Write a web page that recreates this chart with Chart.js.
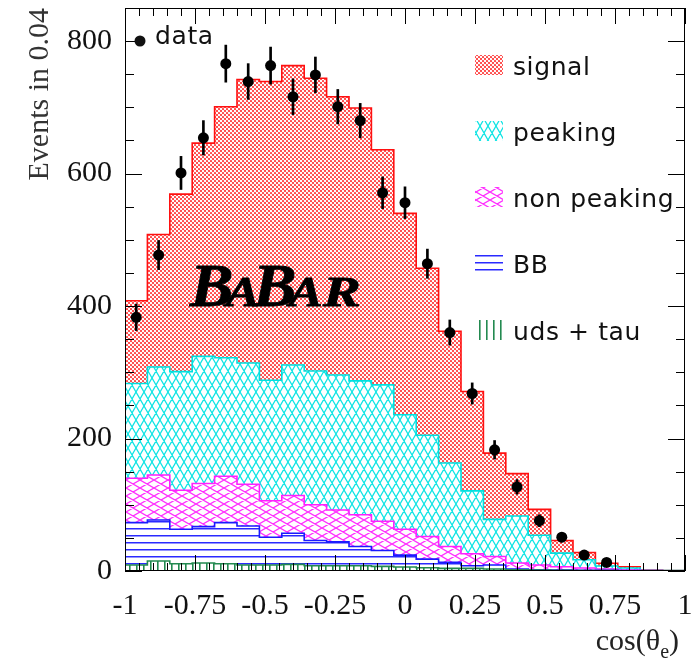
<!DOCTYPE html>
<html>
<head>
<meta charset="utf-8">
<title>cos(θe) distribution</title>
<script src="https://cdn.jsdelivr.net/npm/chart.js@4.4.1/dist/chart.umd.min.js"></script>
<style>
  html, body { margin: 0; padding: 0; background: #fff; }
  #wrap { position: relative; width: 695px; height: 660px; }
</style>
</head>
<body>
<div id="wrap"><canvas id="chart" width="695" height="660"></canvas></div>
<script>
"use strict";

// ----- data ---------------------------------------------------------------- //
// 25 bins of 0.08 over [-1, 1]
const BIN_LO = -1;
const BIN_HI = 1;
const BIN_W = 0.08;

const DATA     = [383, 477, 601, 654, 766, 739, 763, 716, 749, 701, 680, 571, 556,
                  464, 360, 268, 183, 127, 76, 51, 24, 13, null, null, null];
const DATA_ERR = [20, 22, 25, 26, 28, 27, 28, 27, 27, 26, 26, 24, 24,
                  22, 19, 16, 14, 11, 9, 7, 5, 4, 0, 0, 0];

// fit components, bottom of the stack first
const UDS_TAU     = [9, 15, 11, 12, 11, 9, 9, 10, 8, 8, 8, 7, 6,
                     5, 4, 4, 3, 2, 1.5, 1, 0.8, 0.5, 0.4, 0.3, 0.2];
const BB          = [64, 62, 52, 55, 62, 59, 42, 47, 38, 36, 29, 24, 18,
                     13, 9, 4, 6, 1, 0.5, 0.5, 0.4, 0.5, 0.2, 0.1, 0.1];
const NON_PEAKING = [67, 68, 59, 65, 70, 63, 55, 57, 54, 48, 48, 44, 39,
                     34, 24, 18, 13, 9, 7, 5, 3.3, 2, 0.9, 0.4, 0.1];
const PEAKING     = [143, 163, 179, 192, 179, 183, 182, 197, 202, 204, 202, 206, 173,
                     153, 126, 95, 56, 71, 45, 20.5, 12.5, 4.5, 3, 0.4, 0.1];
const SIGNAL      = [125, 200, 268, 322, 379, 428, 451, 452, 442, 420, 412, 355, 304,
                     252, 199, 150, 100, 64, 39, 19, 11, 4.1, 2, 0.3, 0.1];

const X_TICKS = [-1, -0.75, -0.5, -0.25, 0, 0.25, 0.5, 0.75, 1];
const Y_TICKS = [0, 200, 400, 600, 800];
const Y_MAX = 850;

// ----- look ---------------------------------------------------------------- //
const SERIF = "'Liberation Serif', 'Times New Roman', serif";
const SANS = "'DejaVu Sans', sans-serif";

function makePattern(w, h, draw) {
  const c = document.createElement("canvas");
  c.width = w; c.height = h;
  const g = c.getContext("2d");
  draw(g, w, h);
  return g.createPattern(c, "repeat");
}

function crossHatch(color, lw) {
  return (g, w, h) => {
    g.strokeStyle = color;
    g.lineWidth = lw;
    g.beginPath();
    for (const dx of [-w, 0, w]) {
      g.moveTo(dx, 0); g.lineTo(dx + w, h);
      g.moveTo(dx + w, 0); g.lineTo(dx, h);
    }
    g.stroke();
  };
}

const PAT_SIGNAL = makePattern(4, 4, (g) => {
  g.fillStyle = "#ff2424";
  g.fillRect(0, 0, 4, 4);
  g.fillStyle = "#fff";
  for (const [x, y] of [[1, 1], [3, 3], [-1, 3], [3, -1], [-1, -1], [5, 5], [1, 5], [5, 1]]) {
    g.beginPath(); g.arc(x, y, 1.25, 0, Math.PI * 2); g.fill();
  }
});
const PAT_PEAKING = makePattern(8, 14, crossHatch("#10e4e4", 1.3));
const PAT_NONPEAK = makePattern(14, 8, crossHatch("#ff30ff", 1.3));
const PAT_BB = makePattern(8, 7, (g) => {
  g.fillStyle = "#2a2aff";
  g.fillRect(0, 3, 8, 1.5);
});
const PAT_UDS = makePattern(7, 8, (g) => {
  g.fillStyle = "#238a50";
  g.fillRect(3, 0, 1.6, 8);
});

const STACK = [
  { name: "uds + tau",   values: UDS_TAU,     color: "#238a50", pattern: PAT_UDS },
  { name: "BB",          values: BB,          color: "#1a1aff", pattern: PAT_BB },
  { name: "non peaking", values: NON_PEAKING, color: "#ff20ff", pattern: PAT_NONPEAK },
  { name: "peaking",     values: PEAKING,     color: "#00e0e0", pattern: PAT_PEAKING },
  { name: "signal",      values: SIGNAL,      color: "#ff1010", pattern: PAT_SIGNAL },
];

// legend entries, top to bottom (baselines in px)
const LEGEND_X = 475;
const LEGEND_BASE = [75, 141, 207, 273, 340];

// ----- helpers ------------------------------------------------------------- //
function edge(k) { return BIN_LO + k * BIN_W; }
function center(k) { return BIN_LO + (k + 0.5) * BIN_W; }

function stepPoints(vals) {
  const pts = vals.map((v, k) => ({ x: edge(k), y: v }));
  pts.push({ x: BIN_HI, y: vals[vals.length - 1] });
  return pts;
}

function fmtTick(v) {
  return String(Math.round(v * 100) / 100);
}

// cumulative tops of the stacked components
let running = SIGNAL.map(() => 0);
const TOPS = STACK.map(s => (running = running.map((r, k) => r + s.values[k])));

// ----- decorations: frame, ticks, legend, labels --------------------------- //
const decorPlugin = {
  id: "decor",
  afterDraw(chart) {
    const { ctx, chartArea: a, scales: { x, y } } = chart;
    ctx.save();

    // frame + inward ticks on all four sides
    ctx.strokeStyle = "#000";
    ctx.lineWidth = 1;
    ctx.strokeRect(a.left + 0.5, a.top + 0.5, a.right - a.left - 1, a.bottom - a.top - 1);
    ctx.beginPath();
    for (let i = 0; i <= 40; i++) {
      const v = BIN_LO + i * 0.05;
      const px = Math.round(x.getPixelForValue(v)) + 0.5;
      const len = i % 5 === 0 ? 16 : 8;
      ctx.moveTo(px, a.bottom); ctx.lineTo(px, a.bottom - len);
      ctx.moveTo(px, a.top); ctx.lineTo(px, a.top + len);
    }
    for (let v = 0; v <= Y_MAX; v += 50) {
      const py = Math.round(y.getPixelForValue(v)) + 0.5;
      const len = v % 200 === 0 ? 17 : 9;
      ctx.moveTo(a.left, py); ctx.lineTo(a.left + len, py);
      ctx.moveTo(a.right, py); ctx.lineTo(a.right - len, py);
    }
    ctx.stroke();

    // legend
    ctx.fillStyle = "#111";
    ctx.font = `25px ${SANS}`;
    ctx.letterSpacing = "0.6px";
    ctx.textBaseline = "alphabetic";
    ctx.textAlign = "left";
    const order = [4, 3, 2, 1, 0];
    order.forEach((si, i) => {
      const s = STACK[si];
      const base = LEGEND_BASE[i];
      ctx.fillStyle = s.pattern;
      ctx.fillRect(LEGEND_X, base - 20, 28, 20);
      ctx.fillStyle = "#111";
      ctx.fillText(s.name, 513, base);
    });

    ctx.beginPath();
    ctx.arc(140, 41, 5.5, 0, Math.PI * 2);
    ctx.fill();
    ctx.fillText("data", 155, 44);
    ctx.letterSpacing = "0px";

    // experiment logo: full-size B's, stretched small capitals
    const logo = [["B", 190, 62, 1.05], ["A", 226, 42, 1.2], ["B", 253, 62, 1.05],
                  ["A", 289, 42, 1.2], ["R", 323, 42, 1.35]];
    ctx.fillStyle = "#000";
    ctx.strokeStyle = "#000";
    ctx.lineWidth = 0.8;
    for (const [ch, lx, size, sx] of logo) {
      ctx.save();
      ctx.translate(lx, 306);
      ctx.scale(sx, 1);
      ctx.font = `bold italic ${size}px ${SERIF}`;
      ctx.fillText(ch, 0, 0);
      ctx.strokeText(ch, 0, 0);
      ctx.restore();
    }

    // axis titles
    ctx.fillStyle = "#222";
    ctx.font = `30px ${SERIF}`;
    const t1 = "cos(θ", t2 = "e", t3 = ")";
    const w1 = ctx.measureText(t1).width;
    const w3 = ctx.measureText(t3).width;
    ctx.font = `20px ${SERIF}`;
    const w2 = ctx.measureText(t2).width;
    const tx = 679 - (w1 + w2 + w3);
    ctx.font = `30px ${SERIF}`;
    ctx.fillText(t1, tx, 650);
    ctx.font = `20px ${SERIF}`;
    ctx.fillText(t2, tx + w1, 658);
    ctx.font = `30px ${SERIF}`;
    ctx.fillText(t3, tx + w1 + w2, 650);

    ctx.translate(48, 8);
    ctx.rotate(-Math.PI / 2);
    ctx.textAlign = "right";
    ctx.fillStyle = "#333";
    ctx.fillText("Events in 0.04", 0, 0);

    ctx.restore();
  },
};

// ----- chart --------------------------------------------------------------- //
const histSets = STACK.map((s, i) => ({
  type: "line",
  label: s.name,
  data: stepPoints(TOPS[i]),
  stepped: "before",
  fill: i === 0 ? "origin" : "-1",
  backgroundColor: s.pattern,
  borderColor: s.color,
  borderWidth: 1.6,
  pointRadius: 0,
  order: 5,
}));

const valid = DATA.map((v, k) => k).filter(k => DATA[k] != null);

const errSet = {
  type: "bar",
  label: "err",
  data: valid.map(k => ({ x: center(k), y: [DATA[k] - DATA_ERR[k], DATA[k] + DATA_ERR[k]] })),
  barThickness: 2,
  backgroundColor: "#000",
  order: 1,
};

const dataSet = {
  type: "line",
  label: "data",
  data: valid.map(k => ({ x: center(k), y: DATA[k] })),
  showLine: false,
  pointRadius: 5.5,
  pointBackgroundColor: "#000",
  pointBorderColor: "#000",
  pointBorderWidth: 0,
  order: 0,
};

new Chart(document.getElementById("chart"), {
  type: "line",
  data: { datasets: [...histSets, errSet, dataSet] },
  options: {
    responsive: false,
    animation: false,
    devicePixelRatio: 1,
    layout: { padding: { top: 8, right: 10, left: 0, bottom: 0 } },
    plugins: {
      legend: { display: false },
      tooltip: { enabled: false },
      filler: { drawTime: "beforeDatasetsDraw" },
    },
    scales: {
      x: {
        type: "linear",
        min: BIN_LO,
        max: BIN_HI,
        offset: false,
        grid: { display: false, drawTicks: false },
        border: { display: false },
        afterBuildTicks: s => { s.ticks = X_TICKS.map(v => ({ value: v })); },
        afterFit: s => { s.height = 89; s.paddingLeft = 0; s.paddingRight = 0; },
        ticks: {
          font: { family: SERIF, size: 30 },
          color: "#111",
          padding: 17,
          maxRotation: 0,
          autoSkip: false,
          callback: v => fmtTick(v),
        },
      },
      y: {
        type: "linear",
        min: 0,
        max: Y_MAX,
        grid: { display: false, drawTicks: false },
        border: { display: false },
        afterBuildTicks: s => { s.ticks = Y_TICKS.map(v => ({ value: v })); },
        afterFit: s => { s.width = 125; s.paddingTop = 0; s.paddingBottom = 0; },
        ticks: {
          font: { family: SERIF, size: 30 },
          color: "#111",
          padding: 13,
          callback: v => fmtTick(v),
        },
      },
    },
  },
  plugins: [decorPlugin],
});
</script>
</body>
</html>
